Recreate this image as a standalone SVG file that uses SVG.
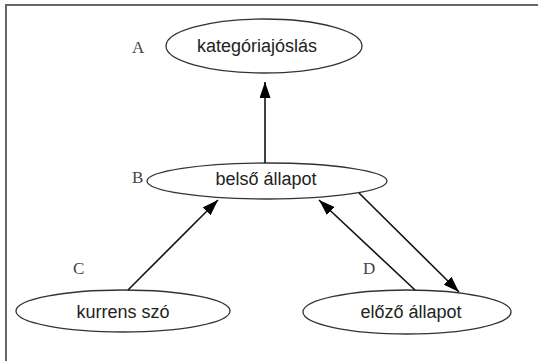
<svg xmlns="http://www.w3.org/2000/svg" width="538" height="361" viewBox="0 0 538 361">
<defs>
<marker id="ah" viewBox="0 0 16 11" refX="16" refY="5.5" markerWidth="16" markerHeight="11" markerUnits="userSpaceOnUse" orient="auto">
<path d="M0,0 L16,5.5 L0,11 Z" fill="#000"/>
</marker>
</defs>
<style>
.node ellipse{fill:#fff;stroke:#333;stroke-width:1.3}
.node text{font-family:"Liberation Sans",Arial,sans-serif;font-size:18px;fill:#222;text-anchor:middle}
.lbl{font-family:"Liberation Serif","Times New Roman",serif;font-size:17px;fill:#444}
.edges line{stroke:#111;stroke-width:1.6;marker-end:url(#ah)}
</style>
<rect width="538" height="361" fill="#fff"/>
<path d="M6,361 L6,5 L538,5" fill="none" stroke="#666" stroke-width="2"/>
<g id="nodeA" class="node">
<ellipse cx="264" cy="46" rx="98" ry="27"/>
<text x="257" y="52">kategóriajóslás</text>
</g>
<g id="nodeB" class="node">
<ellipse cx="267" cy="181" rx="120" ry="18"/>
<text x="266" y="185">belső állapot</text>
</g>
<g id="nodeC" class="node">
<ellipse cx="123" cy="311" rx="107" ry="21"/>
<text x="123" y="318">kurrens szó</text>
</g>
<g id="nodeD" class="node">
<ellipse cx="407" cy="312" rx="104" ry="22"/>
<text x="411" y="318">előző állapot</text>
</g>
<g id="labels">
<text class="lbl" x="132" y="53">A</text>
<text class="lbl" x="132" y="183">B</text>
<text class="lbl" x="73" y="274">C</text>
<text class="lbl" x="363" y="274">D</text>
</g>
<g id="edges" class="edges">
<line x1="265" y1="163" x2="265" y2="82"/>
<line x1="128" y1="290" x2="218" y2="200"/>
<line x1="415" y1="290" x2="319" y2="200"/>
<line x1="359" y1="193" x2="459" y2="292"/>
</g>
</svg>
